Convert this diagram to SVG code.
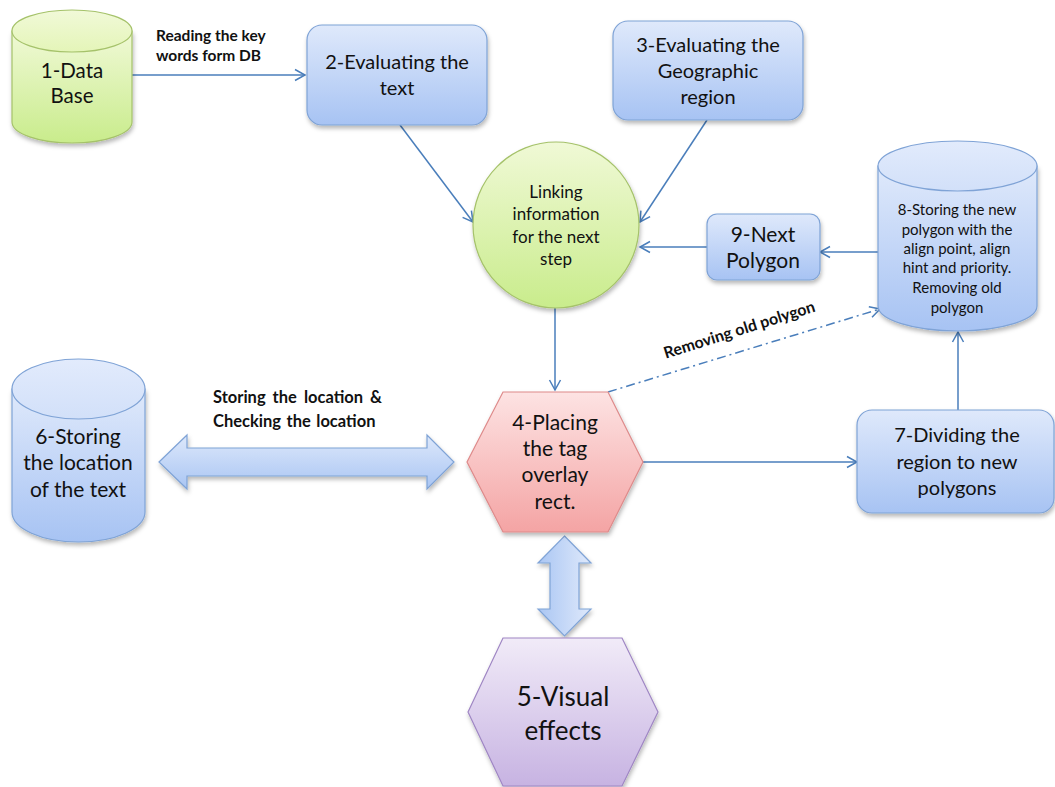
<svg xmlns="http://www.w3.org/2000/svg" width="1055" height="787" viewBox="0 0 1055 787">
  <defs>
    <linearGradient id="gBlue" x1="0" y1="0" x2="0" y2="1">
      <stop offset="0" stop-color="#dfe9fb"/>
      <stop offset="1" stop-color="#a7c3f3"/>
    </linearGradient>
    <linearGradient id="gBlueTop" x1="0" y1="0" x2="0" y2="1">
      <stop offset="0" stop-color="#e2ebfc"/>
      <stop offset="1" stop-color="#d2e0f9"/>
    </linearGradient>
    <linearGradient id="gGreen" x1="0" y1="0" x2="0" y2="1">
      <stop offset="0" stop-color="#f0f9d6"/>
      <stop offset="1" stop-color="#c9ec8c"/>
    </linearGradient>
    <linearGradient id="gGreenTop" x1="0" y1="0" x2="0" y2="1">
      <stop offset="0" stop-color="#f1f9d8"/>
      <stop offset="1" stop-color="#e4f5b8"/>
    </linearGradient>
    <linearGradient id="gRed" x1="0" y1="0" x2="0" y2="1">
      <stop offset="0" stop-color="#fde3e3"/>
      <stop offset="1" stop-color="#f4a4a4"/>
    </linearGradient>
    <linearGradient id="gPurple" x1="0" y1="0" x2="0" y2="1">
      <stop offset="0" stop-color="#f1ebf8"/>
      <stop offset="1" stop-color="#c7b3e2"/>
    </linearGradient>
    <linearGradient id="gArrowH" x1="0" y1="0" x2="0" y2="1">
      <stop offset="0" stop-color="#dde8fb"/>
      <stop offset="1" stop-color="#a9c5f3"/>
    </linearGradient>
    <linearGradient id="gArrowV" x1="0" y1="0" x2="1" y2="0">
      <stop offset="0" stop-color="#aac6f3"/>
      <stop offset="1" stop-color="#dfe9fb"/>
    </linearGradient>
    <filter id="shadow" x="-10%" y="-10%" width="125%" height="130%">
      <feDropShadow dx="1" dy="3" stdDeviation="2" flood-color="#000" flood-opacity="0.28"/>
    </filter>
    <marker id="arrow" markerUnits="userSpaceOnUse" markerWidth="14" markerHeight="14" refX="12" refY="7" orient="auto">
      <path d="M2,1.5 L12,7 L2,12.5" fill="none" stroke="#4a7ebb" stroke-width="1.5"/>
    </marker>
    <style>
      .blue { fill: url(#gBlue); stroke: #7fa3d6; stroke-width: 1.2; }
      .blueTop { fill: url(#gBlueTop); stroke: #7fa3d6; stroke-width: 1.2; }
      .green { fill: url(#gGreen); stroke: #a5c26a; stroke-width: 1.2; }
      .greenTop { fill: url(#gGreenTop); stroke: #a5c26a; stroke-width: 1.2; }
      .red { fill: url(#gRed); stroke: #de8a8a; stroke-width: 1.2; }
      .purple { fill: url(#gPurple); stroke: #9f86c4; stroke-width: 1.2; }
      .shadow { filter: url(#shadow); }
      .conn { fill: none; stroke: #4a7ebb; stroke-width: 1.5; }
      .arrowed { marker-end: url(#arrow); }
      .dashdot { stroke-dasharray: 9 4 2 4; }
      .t { font-family: Lato, "Liberation Sans", sans-serif; fill: #111; text-anchor: middle; }
      .lbl { font-family: Lato, "Liberation Sans", sans-serif; fill: #111; font-weight: bold; }
    </style>
  </defs>

  <!-- connectors -->
  <g id="connectors">
    <line class="conn arrowed" x1="132" y1="75" x2="305" y2="75"/>
    <line class="conn arrowed" x1="400" y1="125" x2="473" y2="222"/>
    <line class="conn arrowed" x1="707" y1="120" x2="640" y2="222"/>
    <line class="conn arrowed" x1="707" y1="247" x2="640" y2="247"/>
    <line class="conn arrowed" x1="878" y1="252" x2="820" y2="252"/>
    <line class="conn arrowed" x1="555" y1="308" x2="555" y2="390"/>
    <line class="conn arrowed dashdot" x1="608" y1="392" x2="880" y2="309"/>
    <line class="conn arrowed" x1="643" y1="462" x2="857" y2="462"/>
    <line class="conn arrowed" x1="958" y1="410" x2="958" y2="332"/>
    <!-- two-way block arrows -->
    <polygon class="shadow" points="159,462 187,435 187,448 427,448 427,435 454,462 427,489 427,476 187,476 187,489" fill="url(#gArrowH)" stroke="#7fa3d6" stroke-width="1.2"/>
    <polygon class="shadow" points="564.5,536 591,563 579,563 579,609 591,609 564.5,636 538,609 550,609 550,563 538,563" fill="url(#gArrowV)" stroke="#7fa3d6" stroke-width="1.2"/>
    <!-- connector labels -->
    <text class="lbl" x="156" y="41" font-size="15.5">Reading the key</text>
    <text class="lbl" x="156" y="61" font-size="15.5">words form DB</text>
    <text class="lbl" x="213" y="403" font-size="16.5" word-spacing="3">Storing the location &amp;</text>
    <text class="lbl" x="213" y="427" font-size="16.5" word-spacing="1.5">Checking the location</text>
    <text class="lbl" x="741" y="335" font-size="16" text-anchor="middle" transform="rotate(-17.5 741 335)">Removing old polygon</text>
  </g>

  <!-- 1: data base -->
  <g id="node-1">
    <path class="green shadow" d="M12,31 V122 A60,21 0 0 0 132,122 V31 Z"/>
    <ellipse class="greenTop" cx="72" cy="31" rx="60" ry="21"/>
    <text class="t" x="72" y="78" font-size="20.5">1-Data</text>
    <text class="t" x="72" y="103" font-size="20.5">Base</text>
  </g>

  <!-- 2: evaluating the text -->
  <g id="node-2">
    <rect class="blue shadow" x="307" y="25" width="180" height="100" rx="15"/>
    <text class="t" x="397" y="69" font-size="20">2-Evaluating the</text>
    <text class="t" x="397" y="95" font-size="20">text</text>
  </g>

  <!-- 3: evaluating the geographic region -->
  <g id="node-3">
    <rect class="blue shadow" x="613" y="21" width="190" height="99" rx="15"/>
    <text class="t" x="708" y="52" font-size="20">3-Evaluating the</text>
    <text class="t" x="708" y="78" font-size="20">Geographic</text>
    <text class="t" x="708" y="104" font-size="20">region</text>
  </g>

  <!-- linking hub -->
  <g id="node-link">
    <circle class="green shadow" cx="556" cy="225" r="83"/>
    <text class="t" x="556" y="198" font-size="17">Linking</text>
    <text class="t" x="556" y="220" font-size="17">information</text>
    <text class="t" x="556" y="243" font-size="17">for the next</text>
    <text class="t" x="556" y="265" font-size="17">step</text>
  </g>

  <!-- 9: next polygon -->
  <g id="node-9">
    <rect class="blue shadow" x="707" y="214" width="113" height="66" rx="10"/>
    <text class="t" x="763" y="242" font-size="21">9-Next</text>
    <text class="t" x="763" y="268" font-size="21">Polygon</text>
  </g>

  <!-- 8: polygon store -->
  <g id="node-8">
    <path class="blue shadow" d="M878,166 V306 A79.5,25 0 0 0 1037,306 V166 Z"/>
    <ellipse class="blueTop" cx="957.5" cy="166" rx="79.5" ry="25"/>
    <text class="t" x="957" y="215" font-size="15">8-Storing the new</text>
    <text class="t" x="957" y="235" font-size="15">polygon with the</text>
    <text class="t" x="957" y="254" font-size="15">align point, align</text>
    <text class="t" x="957" y="273" font-size="15">hint and priority.</text>
    <text class="t" x="957" y="293" font-size="15">Removing old</text>
    <text class="t" x="957" y="313" font-size="15">polygon</text>
  </g>

  <!-- 6: location store -->
  <g id="node-6">
    <path class="blue shadow" d="M12,389 V512 A66.5,30 0 0 0 145,512 V389 Z"/>
    <ellipse class="blueTop" cx="78.5" cy="389" rx="66.5" ry="30"/>
    <text class="t" x="78" y="444" font-size="21">6-Storing</text>
    <text class="t" x="78" y="470" font-size="21">the location</text>
    <text class="t" x="78" y="497" font-size="21">of the text</text>
  </g>

  <!-- 4: placing the tag -->
  <g id="node-4">
    <polygon class="red shadow" points="503,392 608,392 643,462 608,532 503,532 467,462"/>
    <text class="t" x="555" y="430" font-size="21">4-Placing</text>
    <text class="t" x="555" y="456" font-size="21">the tag</text>
    <text class="t" x="555" y="482" font-size="21">overlay</text>
    <text class="t" x="555" y="509" font-size="21">rect.</text>
  </g>

  <!-- 7: dividing the region -->
  <g id="node-7">
    <rect class="blue shadow" x="857" y="410" width="197" height="103" rx="15"/>
    <text class="t" x="957" y="442" font-size="20">7-Dividing the</text>
    <text class="t" x="957" y="469" font-size="20">region to new</text>
    <text class="t" x="957" y="495" font-size="20">polygons</text>
  </g>

  <!-- 5: visual effects -->
  <g id="node-5">
    <polygon class="purple shadow" points="503,638 622,638 658,712 622,786 503,786 468,712"/>
    <text class="t" x="563" y="706" font-size="26">5-Visual</text>
    <text class="t" x="563" y="740" font-size="26">effects</text>
  </g>
</svg>
